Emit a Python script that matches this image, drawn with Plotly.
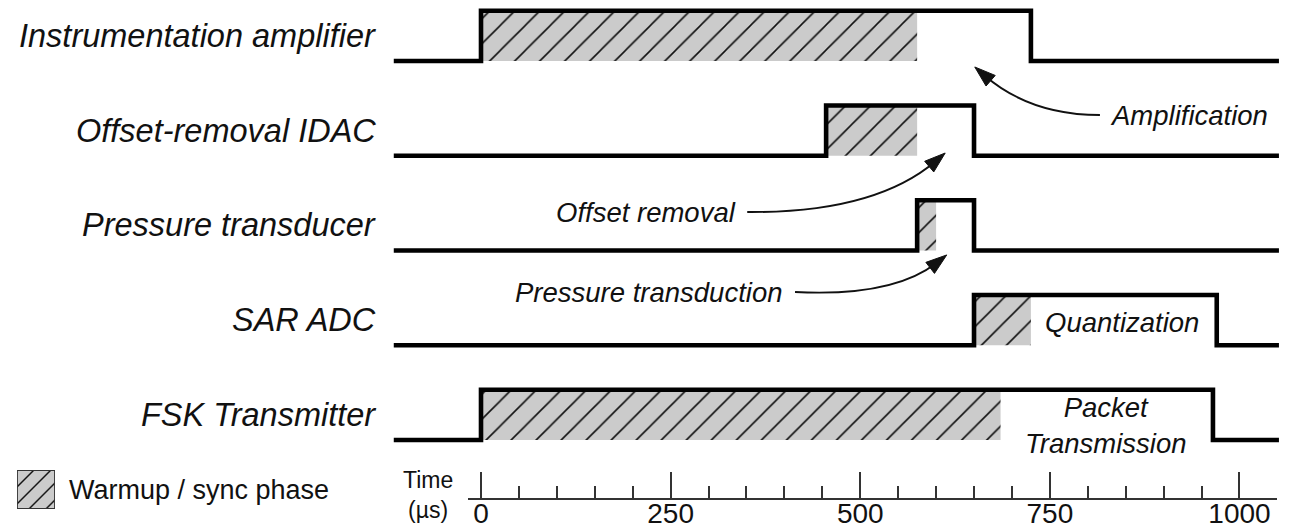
import plotly.graph_objects as go

# ---------------- data ----------------
rows = ["Instrumentation amplifier", "Offset-removal IDAC", "Pressure transducer",
        "SAR ADC", "FSK Transmitter"]
t_on = [0, 455, 575, 650, 0]          # µs, block switched on
t_off = [725, 650, 650, 970, 965]     # µs, block switched off
warm_end = [575, 575, 600, 725, 685]  # µs, end of warmup / sync phase
t_start, t_end = -115, 1052           # extent of the traces

tick_vals = [0, 250, 500, 750, 1000]
tick_text = ["0", "250", "500", "750", "1000"]
minor_step = 50
axis_span = [-17, 1050]

# phase annotations: (text, row, time anchor)
phase_labels = ["Quantization", "Packet<br>Transmission"]
phase_rows = [3, 4]
phase_times = [845, 823]

arrow_texts = ["Amplification", "Offset removal", "Pressure transduction"]
arrow_start = [(816, -0.57), (351, -1.594), (414, -2.438)]
arrow_ctrl = [(724, -0.57), (519, -1.604), (543, -2.491)]
arrow_tip = [(651, -0.063), (612, -0.971), (614, -2.047)]
arrow_text_x = [826, 339, 401]
arrow_text_anchor = ["left", "right", "right"]

# ---------------- geometry ----------------
W, H = 1290, 529
PX_PER_US = 0.7585
X0_PX = 481
PX_PER_ROW = 94.75
Y0_PX = 61
AMP = 0.53

FONT = "Liberation Sans, Arial, Helvetica, sans-serif"
INK = "#111111"


def to_px(t, y):
    return X0_PX + t * PX_PER_US, Y0_PX - y * PX_PER_ROW


def to_data(px, py):
    return (px - X0_PX) / PX_PER_US, -(py - Y0_PX) / PX_PER_ROW


fig = go.Figure()

# warmup / sync phase hatched areas
fig.add_trace(go.Bar(
    x=[(a + b) / 2 for a, b in zip(t_on, warm_end)],
    y=[AMP] * len(rows),
    base=[-i for i in range(len(rows))],
    width=[b - a for a, b in zip(t_on, warm_end)],
    marker=dict(color="#cbcbcb", line=dict(width=0),
                pattern=dict(shape="/", size=17.7, solidity=0.09,
                             fgcolor=INK, bgcolor="#cbcbcb", fillmode="replace")),
    hoverinfo="skip", showlegend=False,
))

# timing waveforms
for i, name in enumerate(rows):
    lo, hi = -i, -i + AMP
    fig.add_trace(go.Scatter(
        x=[t_start, t_on[i], t_on[i], t_off[i], t_off[i], t_end],
        y=[lo, lo, hi, hi, lo, lo],
        mode="lines", line=dict(color="#000000", width=4.6),
        hoverinfo="skip", showlegend=False,
    ))

# empty trace to carry the time axis
fig.add_trace(go.Scatter(x=[None], y=[None], xaxis="x3", yaxis="y",
                         mode="markers", showlegend=False, hoverinfo="skip"))

# legend swatch
fig.add_trace(go.Bar(
    x=[0.5], y=[1], base=[0], width=[1], xaxis="x2", yaxis="y2",
    marker=dict(color="#cbcbcb", line=dict(width=1.8, color="#333333"),
                pattern=dict(shape="/", size=12, solidity=0.12,
                             fgcolor=INK, bgcolor="#cbcbcb", fillmode="replace")),
    hoverinfo="skip", showlegend=False,
))

annotations = []
for i, name in enumerate(rows):
    annotations.append(dict(
        x=to_data(378, 0)[0], y=-i + AMP / 2, xref="x", yref="y",
        text=name, showarrow=False, xanchor="right", yanchor="middle",
        font=dict(family=FONT, size=32.5, color=INK, style="italic"),
    ))

for txt, r, t in zip(phase_labels, phase_rows, phase_times):
    annotations.append(dict(
        x=t, y=-r + AMP / 2 - (0.11 if "<br>" in txt else 0.02), xref="x", yref="y",
        text=txt, showarrow=False, xanchor="center", yanchor="middle",
        font=dict(family=FONT, size=27.5, color=INK, style="italic"),
    ))

shapes = []
for txt, s, c, tp, tx, anc in zip(arrow_texts, arrow_start, arrow_ctrl, arrow_tip,
                                  arrow_text_x, arrow_text_anchor):
    annotations.append(dict(
        x=tx, y=s[1], xref="x", yref="y", text=txt, showarrow=False,
        xanchor=anc, yanchor="middle",
        font=dict(family=FONT, size=27.5, color=INK, style="italic"),
    ))
    # arrowhead geometry in pixel space
    cx, cy = to_px(*c)
    tx_, ty_ = to_px(*tp)
    dx, dy = tx_ - cx, ty_ - cy
    n = (dx * dx + dy * dy) ** 0.5
    dx, dy = dx / n, dy / n
    L, hw = 21, 7
    bx, by = tx_ - L * dx, ty_ - L * dy
    p1 = to_data(bx + hw * -dy, by + hw * dx)
    p2 = to_data(bx - hw * -dy, by - hw * dx)
    end = to_data(tx_ - 0.6 * L * dx, ty_ - 0.6 * L * dy)
    shapes.append(dict(
        type="path", xref="x", yref="y",
        path=f"M {s[0]},{s[1]} Q {c[0]},{c[1]} {end[0]},{end[1]}",
        line=dict(color=INK, width=1.9),
    ))
    shapes.append(dict(
        type="path", xref="x", yref="y",
        path=f"M {tp[0]},{tp[1]} L {p1[0]},{p1[1]} L {p2[0]},{p2[1]} Z",
        fillcolor=INK, line=dict(color=INK, width=1),
    ))

annotations.append(dict(
    x=428 / W, y=1 - 495 / H, xref="paper", yref="paper",
    text="Time<br>(µs)", showarrow=False, xanchor="center", yanchor="middle",
    align="center", font=dict(family=FONT, size=23, color=INK),
))
annotations.append(dict(
    x=67 / W, y=1 - 490 / H, xref="paper", yref="paper",
    text="Warmup / sync phase", showarrow=False, xanchor="left", yanchor="middle",
    font=dict(family=FONT, size=27, color=INK),
))

x_lo = (X0_PX + axis_span[0] * PX_PER_US) / W
x_hi = (X0_PX + axis_span[1] * PX_PER_US) / W

fig.update_layout(
    template="none",
    width=W, height=H, autosize=False,
    margin=dict(l=0, r=0, t=0, b=0, pad=0),
    paper_bgcolor="white", plot_bgcolor="rgba(0,0,0,0)",
    barmode="overlay", showlegend=False,
    xaxis=dict(range=[-X0_PX / PX_PER_US, (W - X0_PX) / PX_PER_US], domain=[0, 1],
               visible=False, fixedrange=True, automargin=False),
    yaxis=dict(range=[-(H - Y0_PX) / PX_PER_ROW, Y0_PX / PX_PER_ROW], domain=[0, 1],
               visible=False, fixedrange=True, automargin=False),
    xaxis2=dict(range=[0, 1], domain=[17 / W, 55 / W], anchor="y2", visible=False,
                automargin=False),
    yaxis2=dict(range=[0, 1], domain=[1 - 509 / H, 1 - 470 / H], anchor="x2", visible=False,
                automargin=False),
    xaxis3=dict(
        range=axis_span, domain=[x_lo, x_hi], anchor="free", position=1 - 499 / H,
        automargin=False,
        showline=True, linecolor="#333333", linewidth=2,
        tickmode="array", tickvals=tick_vals, ticktext=tick_text,
        ticks="inside", ticklen=26, tickwidth=2, tickcolor="#333333",
        ticklabelstandoff=-11,
        minor=dict(dtick=minor_step, tick0=0, ticks="inside", ticklen=12,
                   tickwidth=2, tickcolor="#333333", showgrid=False),
        showgrid=False, zeroline=False,
        tickfont=dict(family=FONT, size=28, color=INK),
    ),
    annotations=annotations, shapes=shapes,
)

fig.write_html("out.html", config={"displayModeBar": False, "staticPlot": True},
               post_script="document.body.style.margin='0px';document.body.style.overflow='hidden';")
